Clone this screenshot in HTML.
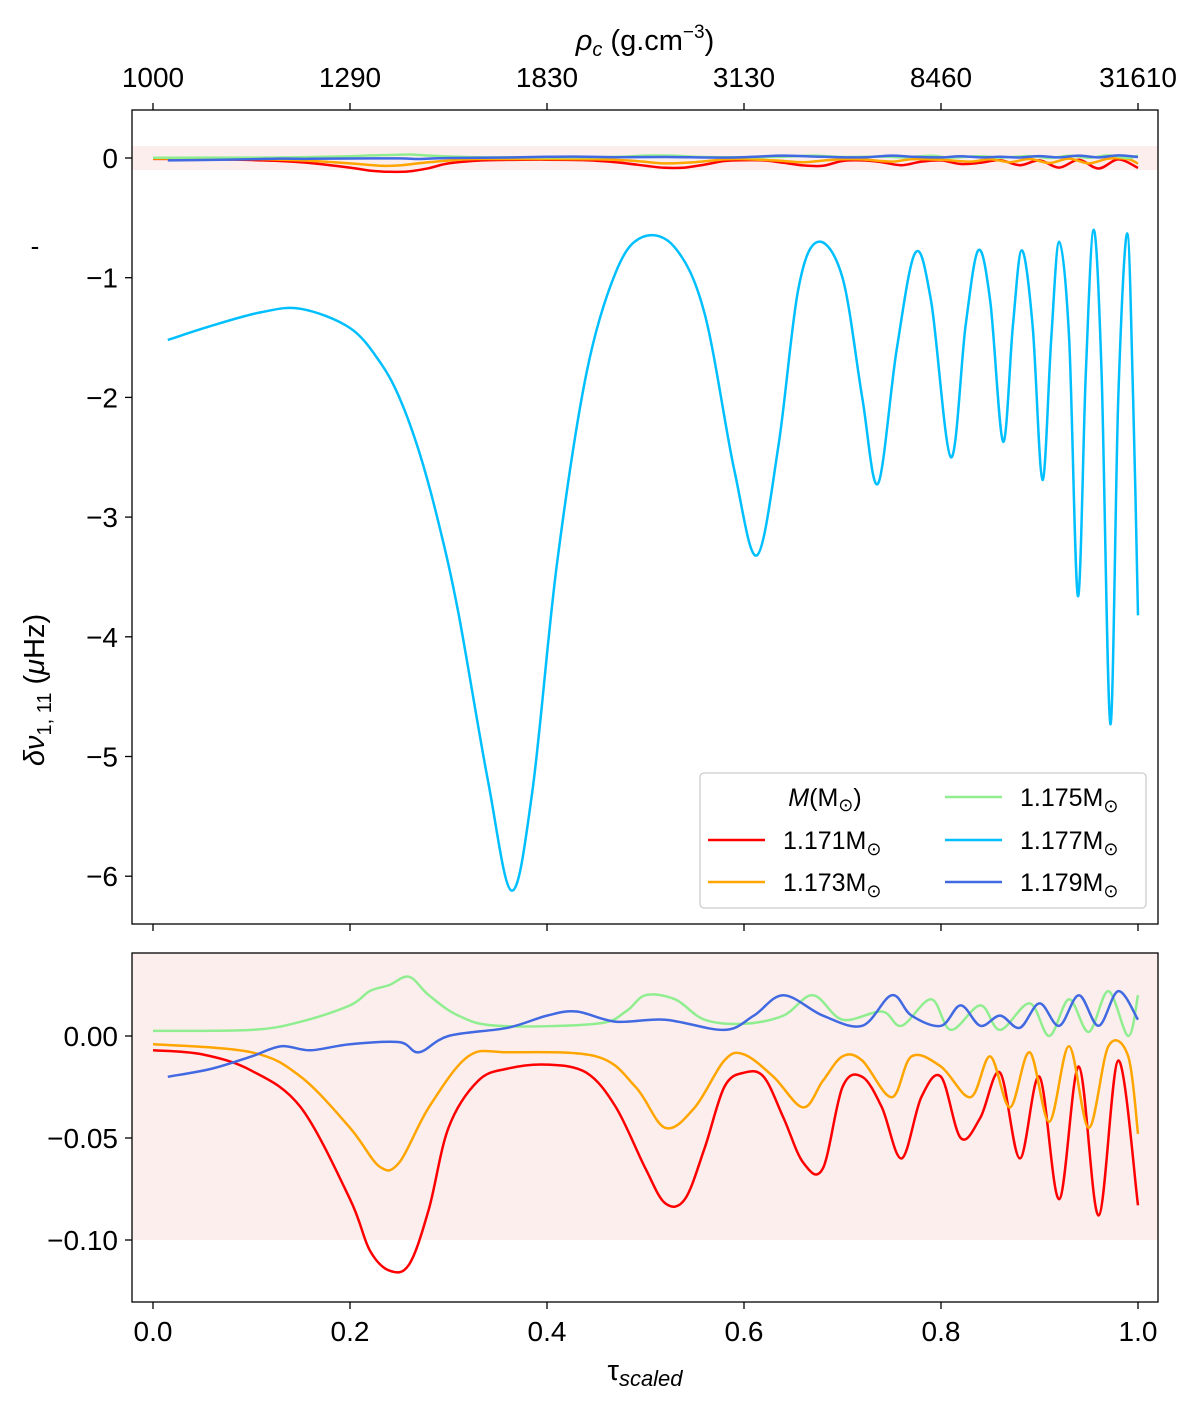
<!DOCTYPE html>
<html><head><meta charset="utf-8"><style>
body{margin:0;background:#fff;}
svg text{font-family:"Liberation Sans","DejaVu Sans",sans-serif;fill:#000;}
</style></head><body>
<svg id="chart" width="1200" height="1396" viewBox="0 0 1200 1396" xmlns="http://www.w3.org/2000/svg">
<g id="topPanel"></g>
<g id="botPanel"></g>
</svg>
<script>
const tauTicks=[0,0.2,0.4,0.6,0.8,1.0];
const tauTickLabels=["0.0","0.2","0.4","0.6","0.8","1.0"];
const rhoTickLabels=["1000","1290","1830","3130","8460","31610"];
const topYTicks=[0,-1,-2,-3,-4,-5,-6];
const botYTicks=[0,-0.05,-0.10];
const botYTickLabels=["0.00","\u22120.05","\u22120.10"];
const cyanTau=[0.015,0.06,0.109,0.15,0.2,0.23,0.25,0.27,0.29,0.31,0.34,0.364,0.385,0.41,0.44,0.47,0.497,0.53,0.56,0.59,0.613,0.635,0.655,0.675,0.70,0.72,0.736,0.755,0.774,0.79,0.81,0.825,0.838,0.85,0.863,0.873,0.882,0.893,0.903,0.912,0.92,0.93,0.939,0.947,0.955,0.963,0.972,0.98,0.989,0.995,1.0];
const cyanVal=[-1.52,-1.40,-1.29,-1.26,-1.42,-1.7,-2.0,-2.45,-3.05,-3.8,-5.2,-6.12,-5.3,-3.4,-1.8,-0.95,-0.66,-0.75,-1.3,-2.6,-3.32,-2.4,-1.1,-0.70,-1.0,-2.0,-2.72,-1.6,-0.79,-1.2,-2.5,-1.4,-0.77,-1.2,-2.37,-1.4,-0.77,-1.4,-2.69,-1.5,-0.70,-1.5,-3.66,-1.8,-0.60,-1.8,-4.73,-2.0,-0.63,-2.0,-3.82];
const redTau=[0,0.05,0.1,0.15,0.2,0.22,0.24,0.26,0.28,0.3,0.33,0.36,0.4,0.44,0.47,0.5,0.52,0.54,0.56,0.58,0.6,0.62,0.64,0.66,0.68,0.7,0.72,0.74,0.76,0.78,0.8,0.82,0.84,0.86,0.88,0.9,0.92,0.94,0.96,0.98,1.0];
const redVal=[-0.007,-0.009,-0.017,-0.035,-0.08,-0.105,-0.115,-0.112,-0.085,-0.045,-0.022,-0.016,-0.014,-0.018,-0.035,-0.065,-0.082,-0.08,-0.055,-0.025,-0.018,-0.02,-0.04,-0.062,-0.065,-0.025,-0.02,-0.035,-0.06,-0.03,-0.02,-0.05,-0.04,-0.018,-0.06,-0.02,-0.08,-0.015,-0.088,-0.012,-0.083];
const orangeTau=[0,0.1,0.15,0.2,0.23,0.25,0.28,0.32,0.36,0.45,0.49,0.52,0.55,0.58,0.6,0.63,0.66,0.68,0.7,0.72,0.75,0.77,0.8,0.83,0.85,0.87,0.89,0.91,0.93,0.95,0.97,0.99,1.0];
const orangeVal=[-0.004,-0.008,-0.02,-0.045,-0.064,-0.062,-0.035,-0.01,-0.008,-0.01,-0.025,-0.045,-0.035,-0.012,-0.009,-0.02,-0.035,-0.022,-0.01,-0.012,-0.03,-0.01,-0.015,-0.03,-0.01,-0.035,-0.008,-0.042,-0.005,-0.045,-0.005,-0.01,-0.048];
const greenTau=[0,0.1,0.15,0.2,0.22,0.24,0.26,0.28,0.31,0.35,0.45,0.48,0.5,0.53,0.56,0.6,0.64,0.67,0.7,0.74,0.76,0.79,0.81,0.84,0.86,0.89,0.91,0.93,0.95,0.97,0.99,1.0];
const greenVal=[0.0025,0.003,0.007,0.015,0.022,0.025,0.029,0.02,0.01,0.005,0.006,0.012,0.02,0.018,0.008,0.006,0.01,0.02,0.008,0.012,0.005,0.018,0.003,0.015,0.003,0.016,0.0,0.018,0.002,0.022,0.0,0.02];
const blueTau=[0.015,0.06,0.1,0.13,0.16,0.2,0.25,0.27,0.3,0.36,0.4,0.43,0.47,0.52,0.58,0.61,0.64,0.68,0.72,0.75,0.77,0.8,0.82,0.84,0.86,0.88,0.9,0.92,0.94,0.96,0.98,1.0];
const blueVal=[-0.02,-0.016,-0.01,-0.005,-0.007,-0.004,-0.003,-0.008,0.0,0.004,0.01,0.012,0.007,0.008,0.003,0.01,0.02,0.01,0.005,0.02,0.01,0.005,0.015,0.005,0.01,0.004,0.016,0.005,0.02,0.005,0.022,0.008];

const NS="http://www.w3.org/2000/svg";
function mk(parent,tag,attrs,text){const e=document.createElementNS(NS,tag);for(const k in attrs)e.setAttribute(k,attrs[k]);if(text!==undefined)e.textContent=text;parent.appendChild(e);return e;}
const xS=t=>153+985*t;
const yTop=v=>158-119.7*v;
const yBot=v=>1036-2040*v;
const topG=document.getElementById('topPanel'), botG=document.getElementById('botPanel');

function smoothPath(ts,vs,ys){const p=ts.map((t,i)=>[xS(t),ys(vs[i])]);let d='M'+p[0][0]+','+p[0][1];
for(let i=0;i<p.length-1;i++){const p0=p[i-1]||p[i],p1=p[i],p2=p[i+1],p3=p[i+2]||p2;
const c1=[p1[0]+(p2[0]-p0[0])/6,p1[1]+(p2[1]-p0[1])/6],c2=[p2[0]-(p3[0]-p1[0])/6,p2[1]-(p3[1]-p1[1])/6];
d+=' C'+c1[0].toFixed(1)+','+c1[1].toFixed(1)+' '+c2[0].toFixed(1)+','+c2[1].toFixed(1)+' '+p2[0].toFixed(1)+','+p2[1].toFixed(1);}return d;}

// top panel
let r=mk(topG,'rect',{x:132,y:yTop(0.1),width:1026,height:yTop(-0.1)-yTop(0.1),fill:'#fdeeee'});


const series=[['red',redTau,redVal,'#ff0000'],['orange',orangeTau,orangeVal,'#ffa500'],['green',greenTau,greenVal,'#90ee90'],['blue',blueTau,blueVal,'#4169e1']];
series.forEach(s=>{const e=mk(topG,'path',{d:smoothPath(s[1],s[2],yTop),fill:'none',stroke:s[3],'stroke-width':2.5});

});
let cy=mk(topG,'path',{d:smoothPath(cyanTau,cyanVal,yTop),fill:'none',stroke:'#00bfff','stroke-width':2.5});


let fr=mk(topG,'rect',{x:132,y:110,width:1026,height:814,fill:'none',stroke:'#000','stroke-width':1.3});


topYTicks.forEach(v=>{const y=yTop(v);mk(topG,'line',{x1:125,x2:132,y1:y,y2:y,stroke:'#000','stroke-width':1.3});
const t=mk(topG,'text',{x:118,y:y+10,'font-size':28,'text-anchor':'end'},v===0?'0':'\u2212'+(-v));

});
tauTicks.forEach((v,i)=>{const x=xS(v);mk(topG,'line',{x1:x,x2:x,y1:924,y2:931,stroke:'#000','stroke-width':1.3});
mk(topG,'line',{x1:x,x2:x,y1:103,y2:110,stroke:'#000','stroke-width':1.3});
const t=mk(topG,'text',{x:x,y:87,'font-size':28,'text-anchor':'middle'},rhoTickLabels[i]);

});
let tt=mk(topG,'text',{x:645,y:50,'font-size':29,'text-anchor':'middle'});
tt.innerHTML='<tspan font-style="italic">ρ</tspan><tspan font-size="20" dy="6" font-style="italic">c</tspan><tspan dy="-6"> (g.cm</tspan><tspan font-size="19" dy="-12">−3</tspan><tspan dy="12">)</tspan>';


let dash=mk(topG,'text',{x:35,y:255,'font-size':26,'text-anchor':'middle'},'-');


let yl=mk(topG,'text',{x:0,y:0,'font-size':29,'text-anchor':'middle',transform:'translate(44,690) rotate(-90)'});
yl.innerHTML='<tspan font-style="italic">δν</tspan><tspan font-size="20" dy="7">1, 11</tspan><tspan dy="-7"> (</tspan><tspan font-style="italic">μ</tspan><tspan>Hz)</tspan>';



// legend
const lg=mk(topG,'g',{});


mk(lg,'rect',{x:700,y:773,width:446,height:135,rx:4,fill:'#fff',stroke:'#ccc','stroke-width':1.3});
let lt=mk(lg,'text',{x:825,y:806,'font-size':25,'text-anchor':'middle'});
lt.innerHTML='<tspan font-style="italic">M</tspan>(M<tspan font-size="18" dy="5">⊙</tspan><tspan dy="-5">)</tspan>';


const legItems=[[708,840,'#ff0000','1.171M'],[708,882,'#ffa500','1.173M'],[945,797,'#90ee90','1.175M'],[945,840,'#00bfff','1.177M'],[945,882,'#4169e1','1.179M']];
legItems.forEach(it=>{const g=mk(lg,'g',{});


mk(g,'line',{x1:it[0],x2:it[0]+57,y1:it[1],y2:it[1],stroke:it[2],'stroke-width':2.5});
const t=mk(g,'text',{x:it[0]+75,y:it[1]+9,'font-size':25});t.innerHTML=it[3]+'<tspan font-size="18" dy="6">⊙</tspan>';});

// bottom panel
let r2=mk(botG,'rect',{x:132,y:953,width:1026,height:yBot(-0.1)-953,fill:'#fdeeee'});


series.forEach(s=>{const e=mk(botG,'path',{d:smoothPath(s[1],s[2],yBot),fill:'none',stroke:s[3],'stroke-width':2.5});

});
let fr2=mk(botG,'rect',{x:132,y:953,width:1026,height:349,fill:'none',stroke:'#000','stroke-width':1.3});


botYTicks.forEach((v,i)=>{const y=yBot(v);mk(botG,'line',{x1:125,x2:132,y1:y,y2:y,stroke:'#000','stroke-width':1.3});
const t=mk(botG,'text',{x:118,y:y+10,'font-size':28,'text-anchor':'end'},botYTickLabels[i]);

});
tauTicks.forEach((v,i)=>{const x=xS(v);mk(botG,'line',{x1:x,x2:x,y1:1302,y2:1309,stroke:'#000','stroke-width':1.3});
const t=mk(botG,'text',{x:x,y:1341,'font-size':28,'text-anchor':'middle'},tauTickLabels[i]);

});
let xl=mk(botG,'text',{x:645,y:1380,'font-size':29,'text-anchor':'middle'});
xl.innerHTML='τ<tspan font-size="22" dy="6" font-style="italic">scaled</tspan>';


</script>
</body></html>
